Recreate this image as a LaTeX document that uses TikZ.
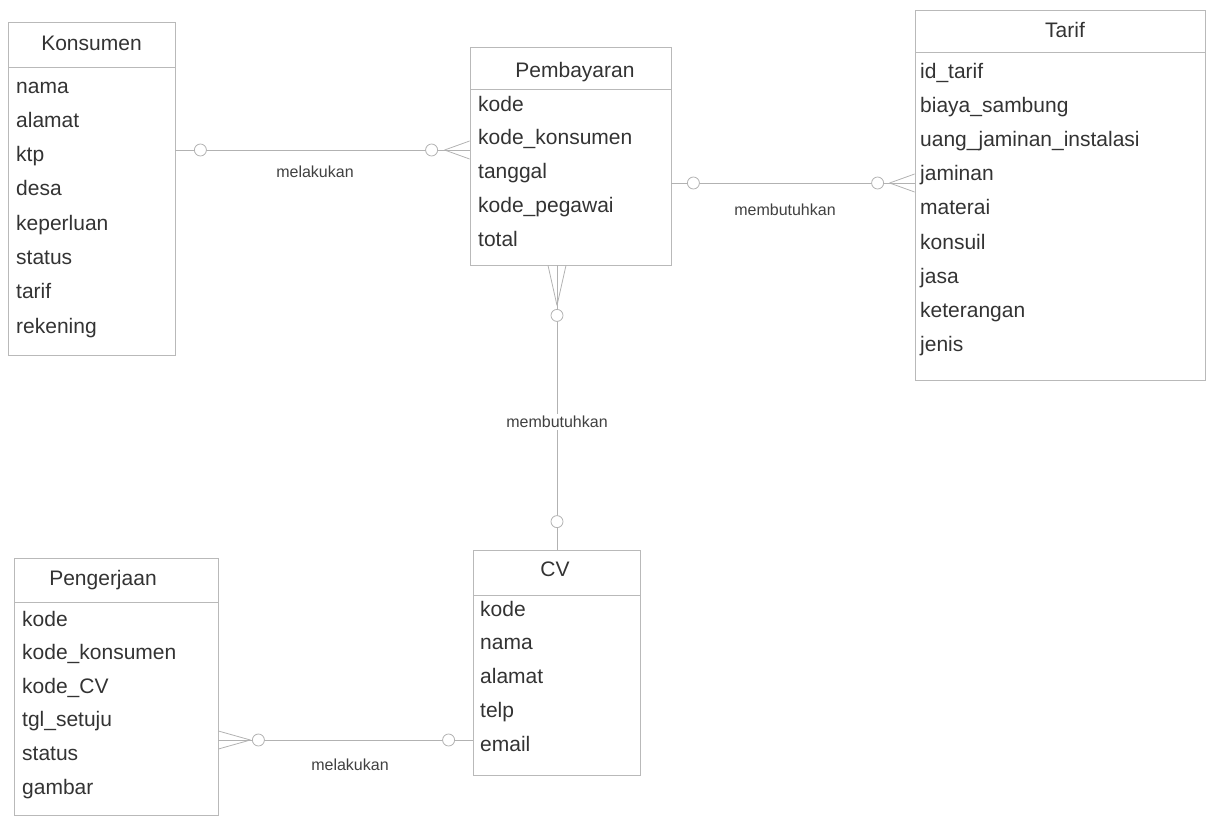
\documentclass[tikz,border=0pt]{standalone}
\usepackage{fontspec}
\setmainfont{Liberation Sans}
\begin{document}
\begin{tikzpicture}[x=1pt,y=-1pt,
  tbl/.style={draw=gray!55, line width=0.8pt, rectangle, inner sep=0pt},
  sep/.style={draw=gray!55, line width=0.8pt},
  ttl/.style={text=black!80, font=\fontsize{21}{24}\selectfont, inner sep=0pt, text height=15pt, text depth=5pt},
  attr/.style={anchor=west, text=black!80, font=\fontsize{21}{24}\selectfont, inner sep=0pt, text height=15pt, text depth=5pt},
  conn/.style={draw=gray!60, line width=0.8pt},
  lbl/.style={text=black!75, font=\fontsize{16}{19}\selectfont, inner sep=2pt}]
\useasboundingbox (0,0) rectangle (1211,820);

% ---------- Konsumen ----------
\node[tbl, minimum width=167pt, minimum height=333pt] (kons) at (91.5,188.5) {};
\draw[sep] (8,67) -- (175,67);
\node[ttl] (konsT) at (91.5,45) {Konsumen};
\foreach \t [count=\i] in {nama,alamat,ktp,desa,keperluan,status,tarif,rekening}
  \node[attr] (kons\i) at (16,{88+34.3*(\i-1)}) {\t};

% ---------- Pembayaran ----------
\node[tbl, minimum width=201pt, minimum height=218pt] (pemb) at (570.5,156) {};
\draw[sep] (470,89) -- (671,89);
\node[ttl] (pembT) at (575,72) {Pembayaran};
\foreach \t [count=\i] in {kode,kode\_konsumen,tanggal,kode\_pegawai,total}
  \node[attr] (pemb\i) at (478,{106+33.8*(\i-1)}) {\t};

% ---------- Tarif ----------
\node[tbl, minimum width=290pt, minimum height=370pt] (tarif) at (1060,195) {};
\draw[sep] (915,52) -- (1205,52);
\node[ttl] (tarifT) at (1065,32) {Tarif};
\foreach \t [count=\i] in {id\_tarif,biaya\_sambung,uang\_jaminan\_instalasi,jaminan,materai,konsuil,jasa,keterangan,jenis}
  \node[attr] (tarif\i) at (920,{73+34.2*(\i-1)}) {\t};

% ---------- Pengerjaan ----------
\node[tbl, minimum width=204pt, minimum height=257pt] (peng) at (116,686.5) {};
\draw[sep] (14,602) -- (218,602);
\node[ttl] (pengT) at (103,580) {Pengerjaan};
\foreach \t [count=\i] in {kode,kode\_konsumen,kode\_CV,tgl\_setuju,status,gambar}
  \node[attr] (peng\i) at (22,{621+33.6*(\i-1)}) {\t};

% ---------- CV ----------
\node[tbl, minimum width=167pt, minimum height=225pt] (cv) at (556.5,662.5) {};
\draw[sep] (473,595) -- (640,595);
\node[ttl] (cvT) at (555,571) {CV};
\foreach \t [count=\i] in {kode,nama,alamat,telp,email}
  \node[attr] (cv\i) at (480,{611+33.8*(\i-1)}) {\t};

% ---------- Konsumen -- Pembayaran ----------
\coordinate (p1) at ([yshift=6pt]pemb.west);
\coordinate (k1) at (kons.east |- p1);
\draw[conn] (k1) -- (p1);
\draw[conn] ([xshift=-25pt]p1) -- ([yshift=9pt]p1);
\draw[conn] ([xshift=-25pt]p1) -- ([yshift=-9pt]p1);
\draw[conn, fill=white] ([xshift=-38pt]p1) circle (6pt);
\draw[conn, fill=white] ([xshift=25pt]k1) circle (6pt);
\node[lbl] (l1) at (315,172) {melakukan};

% ---------- Pembayaran -- Tarif ----------
\coordinate (t2) at ([yshift=12pt]tarif.west);
\coordinate (p2) at (pemb.east |- t2);
\draw[conn] (p2) -- (t2);
\draw[conn] ([xshift=-25pt]t2) -- ([yshift=9pt]t2);
\draw[conn] ([xshift=-25pt]t2) -- ([yshift=-9pt]t2);
\draw[conn, fill=white] ([xshift=-37pt]t2) circle (6pt);
\draw[conn, fill=white] ([xshift=22pt]p2) circle (6pt);
\node[lbl] (l2) at (785,210) {membutuhkan};

% ---------- Pembayaran -- CV ----------
\coordinate (p3) at ([xshift=-13.5pt]pemb.south);
\coordinate (c3) at (p3 |- cv.north);
\draw[conn] (p3) -- (c3);
\draw[conn] ([yshift=-40pt]p3) -- ([xshift=-9pt]p3);
\draw[conn] ([yshift=-40pt]p3) -- ([xshift=9pt]p3);
\draw[conn, fill=white] ([yshift=-50pt]p3) circle (6pt);
\draw[conn, fill=white] ([yshift=28pt]c3) circle (6pt);
\node[lbl, fill=white] (l3) at (557,422) {membutuhkan};

% ---------- Pengerjaan -- CV ----------
\coordinate (g4) at ([yshift=-53.5pt]peng.east);
\coordinate (c4) at (cv.west |- g4);
\draw[conn] (g4) -- (c4);
\draw[conn] ([xshift=32pt]g4) -- ([yshift=9pt]g4);
\draw[conn] ([xshift=32pt]g4) -- ([yshift=-9pt]g4);
\draw[conn, fill=white] ([xshift=40pt]g4) circle (6pt);
\draw[conn, fill=white] ([xshift=-24pt]c4) circle (6pt);
\node[lbl] (l4) at (350,765) {melakukan};
\end{tikzpicture}
\end{document}
